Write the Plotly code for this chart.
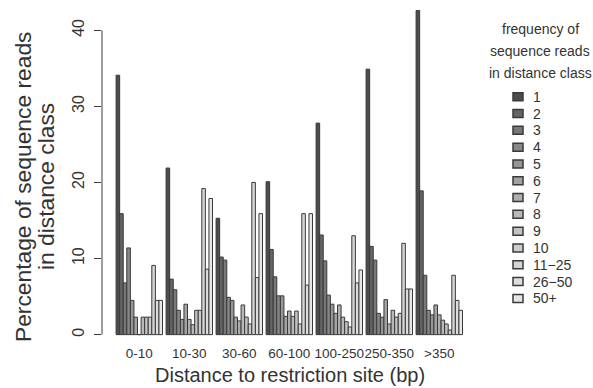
import plotly.graph_objects as go

categories = ["0-10", "10-30", "30-60", "60-100", "100-250", "250-350", ">350"]
freq_labels = ["1", "2", "3", "4", "5", "6", "7", "8", "9", "10", "11\u221225", "26\u221250", "50+"]

# percentage values per frequency class (rows) across distance classes (columns)
v1 = [34.1, 21.9, 15.3, 20.1, 27.8, 34.9, 42.6]
v2 = [15.9, 7.3, 10.2, 11.2, 13.1, 11.6, 18.9]
v3 = [6.8, 5.9, 9.8, 7.6, 9.7, 9.8, 7.8]
v4 = [11.4, 3.2, 4.9, 5.1, 5.2, 2.8, 3.2]
v5 = [4.5, 2.0, 4.5, 5.1, 4.0, 2.3, 2.6]
v6 = [2.3, 4.0, 2.3, 2.4, 2.8, 4.6, 3.9]
v7 = [0.0, 2.0, 1.8, 3.1, 3.9, 1.4, 2.6]
v8 = [2.3, 1.3, 3.9, 2.4, 2.3, 3.2, 1.9]
v9 = [2.3, 3.2, 2.3, 3.1, 1.7, 2.3, 1.4]
v10 = [2.3, 3.2, 1.4, 1.4, 1.0, 2.8, 0.6]
v11_25 = [9.1, 19.2, 20.0, 15.9, 13.0, 12.0, 7.8]
v26_50 = [4.5, 8.6, 7.5, 6.5, 6.8, 6.0, 4.5]
v50p = [4.5, 17.9, 15.9, 15.9, 8.5, 6.0, 3.2]
series = [v1, v2, v3, v4, v5, v6, v7, v8, v9, v10, v11_25, v26_50, v50p]

# R gray.colors(13)
n = len(series)
lo, hi = 0.3 ** 2.2, 0.9 ** 2.2
colors = []
for i in range(n):
    g = (lo + (hi - lo) * i / (n - 1)) ** (1 / 2.2)
    c = int(round(g * 255))
    colors.append(f"rgb({c},{c},{c})")

FONT = "Liberation Sans, Arial, sans-serif"
TXT = "#333333"
OUT = "#3a3a3a"

fig = go.Figure()
for lab, vals, col in zip(freq_labels, series, colors):
    fig.add_trace(go.Bar(x=categories, y=vals, name=lab, marker=dict(color=col, line=dict(color=OUT, width=1)),
                         showlegend=False))

W, H = 593, 388
L, R, T, B = 102, 117, 5, 45.1
pw, ph = W - L - R, H - T - B

def px_x(p):
    return (p - L) / pw

def px_y(p):
    return (H - B - p) / ph

fig.update_layout(
    width=W, height=H,
    margin=dict(l=L, r=R, t=T, b=B),
    paper_bgcolor="white", plot_bgcolor="white",
    barmode="group", bargap=1 / 14, bargroupgap=0,
    font=dict(family=FONT, color=TXT),
    xaxis=dict(type="category", range=[-0.746, 6.734], showline=False, ticks="", showgrid=False,
               zeroline=False, tickangle=0, automargin=False, tickfont=dict(size=13.5, color=TXT)),
    yaxis=dict(range=[-1.1, 43.33], tickvals=[0, 10, 20, 30, 40], ticks="outside", ticklen=7,
               tickcolor=OUT, tickwidth=1, tickangle=-90, showline=False, showgrid=False, zeroline=False,
               automargin=False, ticklabelstandoff=4, tickfont=dict(size=16, color=TXT)),
)

# y axis line spanning tick range only
fig.add_shape(type="line", xref="paper", yref="y", x0=0, x1=0, y0=0, y1=40, line=dict(color=OUT, width=1))

# axis titles
fig.add_annotation(text="Percentage of sequence reads", xref="paper", yref="paper", x=px_x(23), y=px_y(187),
                   textangle=-90, showarrow=False, font=dict(size=22.8, color=TXT), xanchor="center", yanchor="middle")
fig.add_annotation(text="in distance class", xref="paper", yref="paper", x=px_x(46), y=px_y(187),
                   textangle=-90, showarrow=False, font=dict(size=22.8, color=TXT), xanchor="center", yanchor="middle")
fig.add_annotation(text="Distance to restriction site (bp)", xref="paper", yref="paper", x=px_x(290), y=px_y(375),
                   showarrow=False, font=dict(size=20, color=TXT), xanchor="center", yanchor="middle")

# legend title
for i, t in enumerate(["frequency of", "sequence reads", "in distance class"]):
    fig.add_annotation(text=t, xref="paper", yref="paper", x=px_x(540), y=px_y(29 + 22 * i),
                       showarrow=False, font=dict(size=14, color=TXT), xanchor="center", yanchor="middle")

# legend entries
for i, (lab, col) in enumerate(zip(freq_labels, colors)):
    cy = 96.7 + 16.8 * i
    fig.add_shape(type="rect", xref="paper", yref="paper", x0=px_x(513), x1=px_x(523), y0=px_y(cy + 4), y1=px_y(cy - 4),
                  fillcolor=col, line=dict(color=OUT, width=1.5))
    fig.add_annotation(text=lab, xref="paper", yref="paper", x=px_x(531), y=px_y(cy), showarrow=False,
                       font=dict(size=14, color=TXT), xanchor="left", yanchor="middle")

fig.write_html("out.html", config={"displayModeBar": False},
               post_script="document.body.style.margin='0';document.body.style.overflow='hidden';")
